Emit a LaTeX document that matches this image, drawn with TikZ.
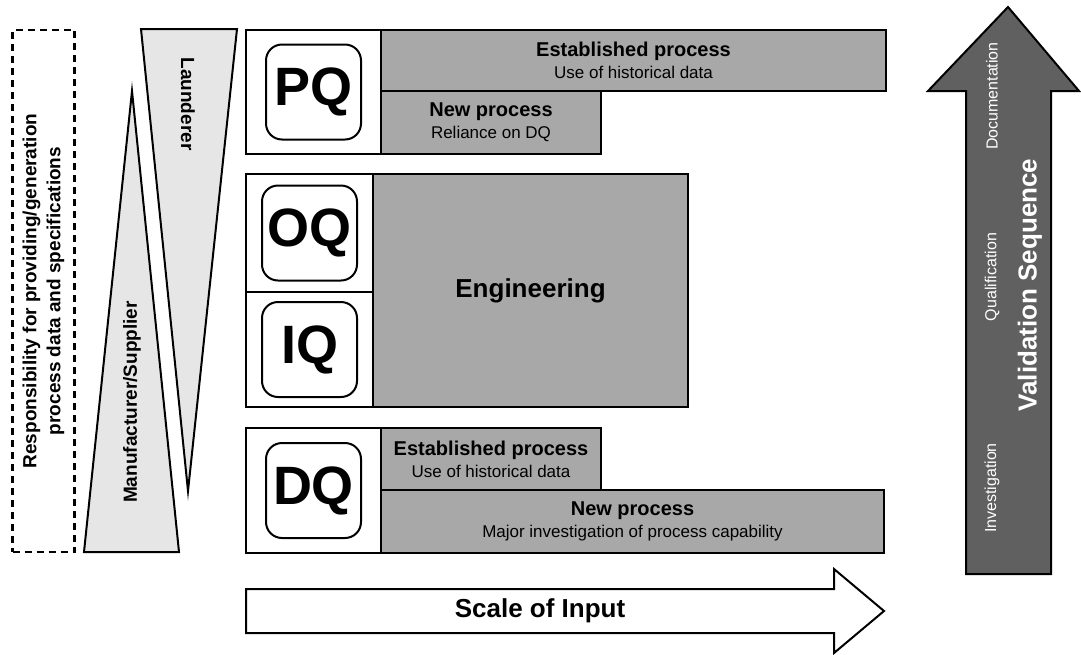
\documentclass[tikz,border=0pt]{standalone}
\usepackage{fontspec}
\setmainfont{Liberation Sans}
\usetikzlibrary{positioning}
\definecolor{procGrey}{HTML}{A8A8A8}
\definecolor{wedgeGrey}{HTML}{E6E6E6}
\definecolor{seqGrey}{HTML}{606060}
\newcommand{\subtext}{\fontsize{17}{21}\selectfont\mdseries}

\begin{document}
\begin{tikzpicture}[
    x=1pt, y=-1pt,
    cell/.style={draw, line width=2pt, fill=white, inner sep=0pt},
    proc/.style={draw, line width=2pt, fill=procGrey, inner sep=0pt,
                 align=center, font=\fontsize{20}{22}\selectfont\bfseries},
    qbox/.style={draw, line width=2pt, rounded corners=16pt, fill=white,
                 minimum width=95pt, minimum height=95pt,
                 font=\fontsize{54}{54}\selectfont\bfseries},
    side/.style={font=\fontsize{19}{24}\selectfont\bfseries, align=center},
    wedge/.style={draw, line width=2pt, fill=wedgeGrey, line join=miter},
    bigarrow/.style={draw, line width=2pt, line join=miter},
    seqlabel/.style={text=white, rotate=90, font=\fontsize{16}{18}\selectfont},
]
\useasboundingbox (0,0) rectangle (1081,654);

% Responsibility
\node[draw, line width=2.2pt, dash pattern=on 7pt off 5pt,
      minimum width=62pt, minimum height=522pt] (resp) at (43.5,291) {};
\node[side, rotate=90] (resplabel) at (resp.center)
    {Responsibility for providing/generation\\process data and specifications};

\draw[wedge] (84,552) -- (179,552) -- (132,91) -- cycle;
\node[side, rotate=90] (manu) at (132,402) {Manufacturer/Supplier};
\draw[wedge] (141,29) -- (237,29) -- (188,491) -- cycle;
\node[side, rotate=-90] (laund) at (188,104) {Launderer};

% PQ
\node[cell, minimum width=135pt, minimum height=124pt] (pqcell) at (313.5,92) {};
\node[qbox] (pq) at (pqcell.center) {PQ};
\node[proc, minimum width=505pt, minimum height=61pt] (pqest) at (633.5,60.5)
    {Established process\\{\subtext Use of historical data}};
\node[proc, minimum width=220pt, minimum height=63pt] (pqnew) at (491,122.5)
    {New process\\{\subtext Reliance on DQ}};

% OQ / IQ
\node[cell, minimum width=127pt, minimum height=118pt] (oqcell) at (309.5,233) {};
\node[qbox] (oq) at (oqcell.center) {OQ};
\node[cell, minimum width=127pt, minimum height=115pt] (iqcell) at (309.5,349.5) {};
\node[qbox] (iq) at (iqcell.center) {IQ};
\node[proc, minimum width=315pt, minimum height=233pt,
      font=\fontsize{26}{28}\selectfont\bfseries] (eng) at (530.5,290.5) {Engineering};

% DQ
\node[cell, minimum width=135pt, minimum height=125pt] (dqcell) at (313.5,490.5) {};
\node[qbox] (dq) at (dqcell.center) {DQ};
\node[proc, minimum width=220pt, minimum height=62pt] (dqest) at (491,459)
    {Established process\\{\subtext Use of historical data}};
\node[proc, minimum width=503pt, minimum height=63pt] (dqnew) at (632.5,521.5)
    {New process\\{\subtext Major investigation of process capability}};

% Scale of Input
\draw[bigarrow, fill=white] (246,589) -- (834,589) -- (834,569) -- (884,611)
    -- (834,653) -- (834,633) -- (246,633) -- cycle;
\node[font=\fontsize{26}{28}\selectfont\bfseries] (scale) at (540,611) {Scale of Input};

% Validation Sequence
\draw[bigarrow, fill=seqGrey] (966,574) -- (966,91) -- (928,91) -- (1008,7)
    -- (1079,91) -- (1051,91) -- (1051,574) -- cycle;
\node[seqlabel] (doc) at (992,96) {Documentation};
\node[seqlabel] (qual) at (992,277) {Qualification};
\node[seqlabel] (inv) at (992,488) {Investigation};
\node[text=white, rotate=90, font=\fontsize{26}{28}\selectfont\bfseries]
    (valseq) at (1030,285) {Validation Sequence};
\end{tikzpicture}
\end{document}
